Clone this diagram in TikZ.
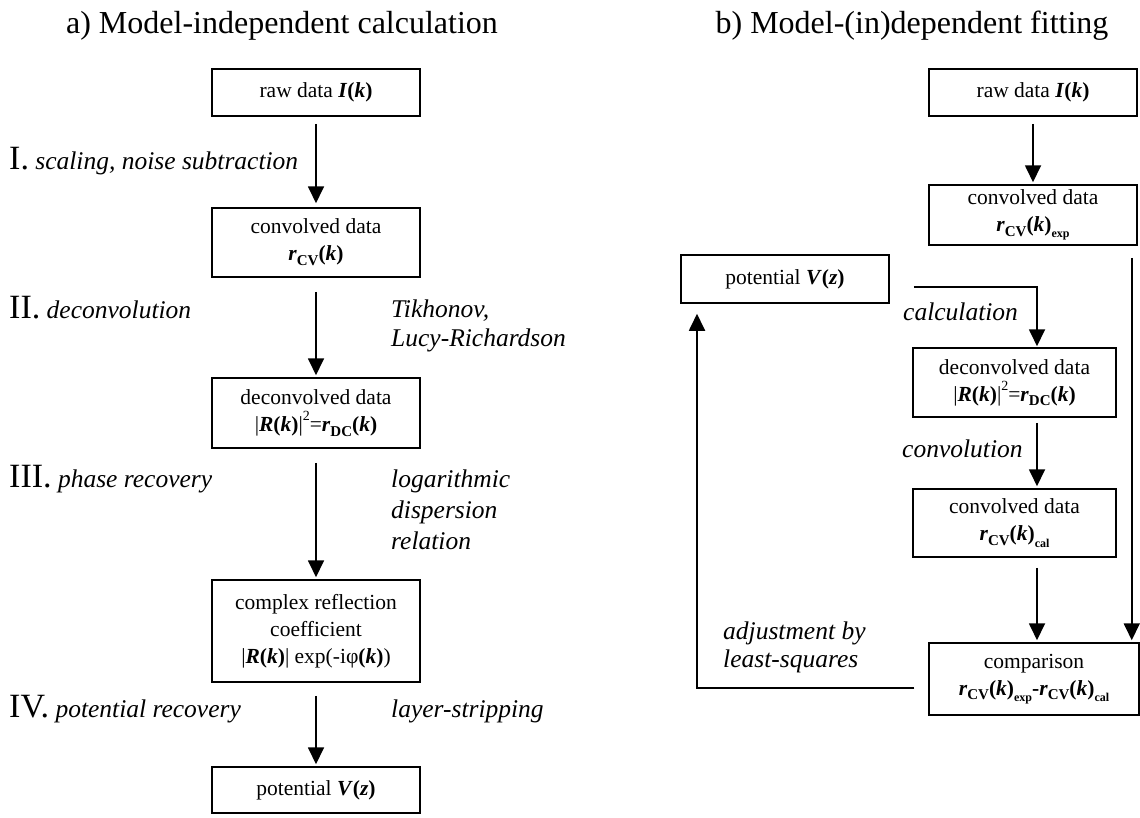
\documentclass[tikz,border=0pt]{standalone}
\usepackage{fontspec}
\setmainfont{Liberation Serif}
\usetikzlibrary{arrows.meta}
\newcommand{\mysubA}[1]{\raisebox{-0.22em}{\fontsize{15}{15}\selectfont\bfseries\upshape #1}}
\newcommand{\mysubB}[1]{\raisebox{-0.3em}{\fontsize{12}{12}\selectfont\bfseries\upshape #1}}
\newcommand{\mysupA}[1]{\raisebox{0.5em}{\fontsize{14}{14}\selectfont #1}}
\newcommand{\mybi}[1]{\textbf{\textit{#1}}}
\newcommand{\myrcv}{\mybi{r}\mysubA{CV}\textbf{(}\mybi{k}\textbf{)}}
\begin{document}
\begin{tikzpicture}[x=1pt,y=-1pt,
  box/.style={draw, line width=1.5pt, inner sep=0pt, align=center,
    font=\fontsize{21.5}{27}\selectfont},
  arr/.style={line width=1.8pt, -{Triangle[length=17pt,width=16pt]}},
  lab/.style={anchor=base west, inner sep=0pt, font=\fontsize{25.5}{30}\selectfont\itshape},
  ttl/.style={anchor=base, inner sep=0pt, font=\fontsize{32}{38}\selectfont}]
\useasboundingbox (0,0) rectangle (1140,817);

% titles
\node[ttl] (ta) at (282,33) {a) Model-independent calculation};
\node[ttl] (tb) at (912,33) {b) Model-(in)dependent fitting};

% left column
\node[box, minimum width=208pt, minimum height=47pt] (rawA) at (316,92.5)
  {raw data \mybi{I}\textbf{(}\mybi{k}\textbf{)}};
\node[box, minimum width=208pt, minimum height=69pt] (convA) at (316,242.5)
  {convolved data\\\myrcv};
\node[box, minimum width=208pt, minimum height=70pt] (deconvA) at (316,413)
  {deconvolved data\\|\mybi{R}\textbf{(}\mybi{k}\textbf{)}|\mysupA{2}=\mybi{r}\mysubA{DC}\textbf{(}\mybi{k}\textbf{)}};
\node[box, minimum width=208pt, minimum height=102pt] (complexA) at (316,631)
  {complex reflection\\coefficient\\|\mybi{R}\textbf{(}\mybi{k}\textbf{)}| exp(-iφ\textbf{(}\mybi{k}\textbf{)})};
\node[box, minimum width=208pt, minimum height=46pt] (potA) at (316,790)
  {potential \mybi{V}\textbf{(}\mybi{z}\textbf{)}};

\draw[arr, shorten <=7pt, shorten >=4pt] (rawA) -- (convA);
\draw[arr, shorten <=14pt, shorten >=2pt] (convA) -- (deconvA);
\draw[arr, shorten <=14pt, shorten >=2pt] (deconvA) -- (complexA);
\draw[arr, shorten <=13pt, shorten >=2pt] (complexA) -- (potA);

% left labels
\node[lab] (l1) at (9,169) {{\fontsize{34}{34}\selectfont\upshape I.} scaling, noise subtraction};
\node[lab] (l2) at (9,318) {{\fontsize{34}{34}\selectfont\upshape II.} deconvolution};
\node[lab] (l3) at (9,487) {{\fontsize{34}{34}\selectfont\upshape III.} phase recovery};
\node[lab] (l4) at (9,717) {{\fontsize{34}{34}\selectfont\upshape IV.} potential recovery};
\node[lab] (r2a) at (391,317) {Tikhonov,};
\node[lab] (r2b) at (391,346) {Lucy-Richardson};
\node[lab] (r3a) at (391,487) {logarithmic};
\node[lab] (r3b) at (391,518) {dispersion};
\node[lab] (r3c) at (391,549) {relation};
\node[lab] (r4) at (391,717) {layer-stripping};

% right column
\node[box, minimum width=208pt, minimum height=47pt] (rawB) at (1033,92.5)
  {raw data \mybi{I}\textbf{(}\mybi{k}\textbf{)}};
\node[box, minimum width=208pt, minimum height=60pt] (convB) at (1033,215)
  {convolved data\\\myrcv\mysubB{exp}};
\node[box, minimum width=208pt, minimum height=48pt] (potB) at (785,279)
  {potential \mybi{V}\textbf{(}\mybi{z}\textbf{)}};
\node[box, minimum width=203pt, minimum height=69pt] (deconvB) at (1014.5,382.5)
  {deconvolved data\\|\mybi{R}\textbf{(}\mybi{k}\textbf{)}|\mysupA{2}=\mybi{r}\mysubA{DC}\textbf{(}\mybi{k}\textbf{)}};
\node[box, minimum width=203pt, minimum height=68pt] (convcalB) at (1014.5,523)
  {convolved data\\\myrcv\mysubB{cal}};
\node[box, minimum width=210pt, minimum height=72pt] (compB) at (1034,679)
  {comparison\\\myrcv\mysubB{exp}\textbf{-}\myrcv\mysubB{cal}};

\draw[arr, shorten <=7pt, shorten >=2pt] (rawB) -- (convB);
\draw[arr, shorten >=1pt] ([xshift=24pt,yshift=-8pt]potB.east) -| ([xshift=22.5pt]deconvB.north);
\draw[arr, shorten <=5pt, shorten >=2pt] ([xshift=22.5pt]deconvB.south) -- ([xshift=22.5pt]convcalB.north);
\draw[arr, shorten <=10pt, shorten >=2pt] ([xshift=22.5pt]convcalB.south) -- ([xshift=22.5pt]convcalB.south |- compB.north);
\draw[arr, shorten <=12pt, shorten >=2pt] ([xshift=-6pt]convB.south east) -- ([xshift=-6pt]convB.south east |- compB.north);
\draw[arr, shorten >=10pt] ([xshift=-14pt,yshift=-9pt]compB.west) -| ([xshift=-88pt]potB.south);

% right labels
\node[lab] (lc) at (903,320) {calculation};
\node[lab] (lv) at (902,457) {convolution};
\node[lab] (la1) at (723,639) {adjustment by};
\node[lab] (la2) at (723,667) {least-squares};
\end{tikzpicture}
\end{document}
